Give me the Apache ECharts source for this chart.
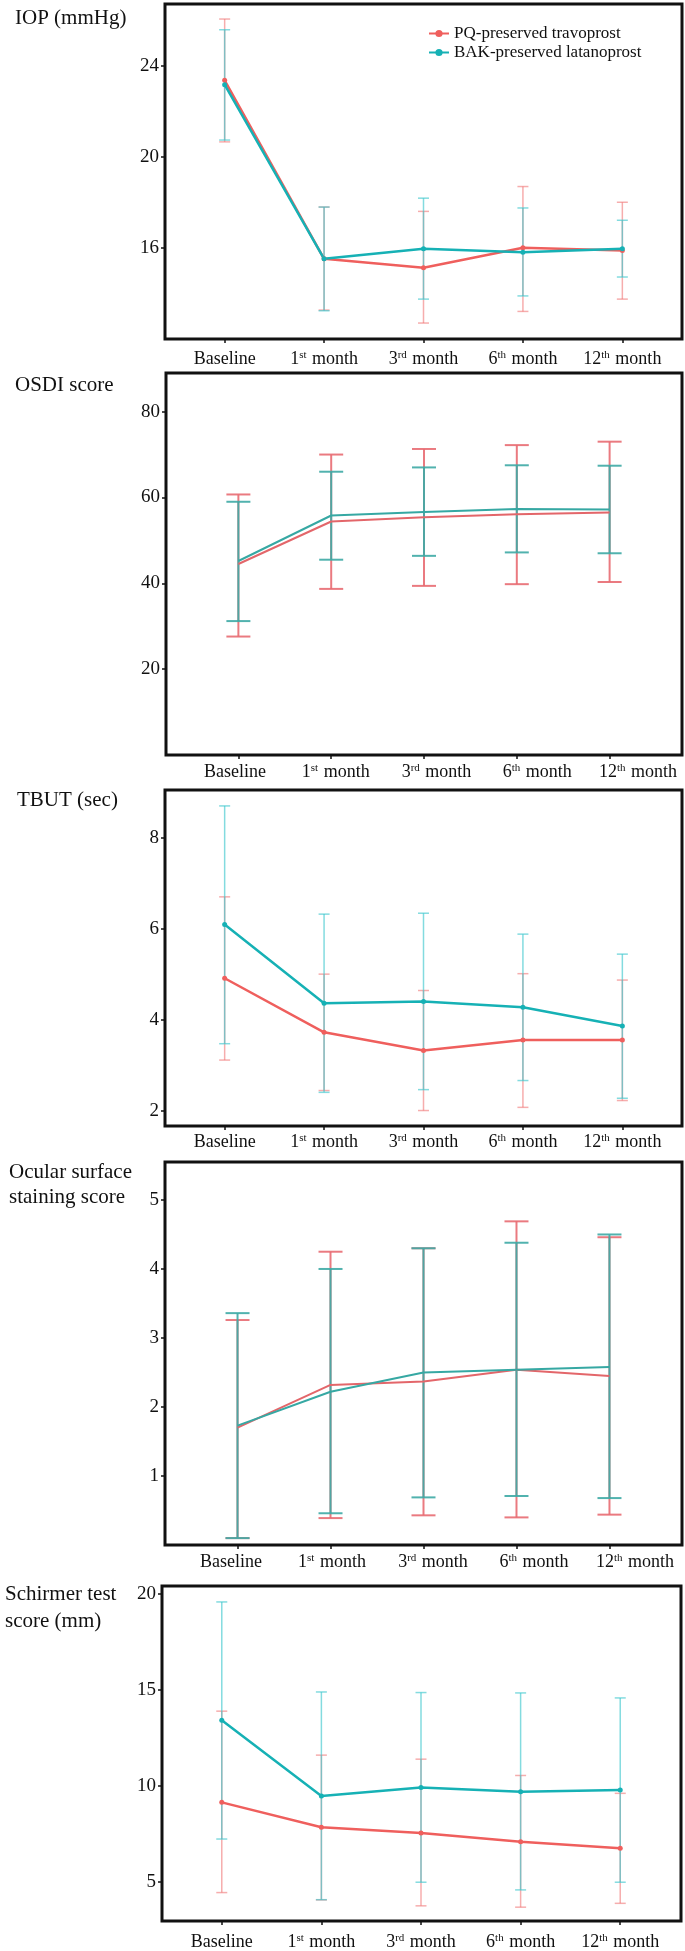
<!DOCTYPE html>
<html>
<head>
<meta charset="utf-8">
<script src="https://cdn.jsdelivr.net/npm/echarts@6/dist/echarts.min.js"></script>
<style>
  html, body { margin: 0; padding: 0; background: #fff; }
  #chart { width: 685px; height: 1951px; }
</style>
</head>
<body>
<div id="chart"></div>
<script>
// ---- data ----
const timepoints = ['Baseline', '1st month', '3rd month', '6th month', '12th month']
const seriesNames = ['PQ-preserved travoprost', 'BAK-preserved latanoprost']

// IOP (mmHg)
const iopTicks = [16, 20, 24]
const iopPqMean = [23.35, 15.52, 15.13, 16.0, 15.88]
const iopPqLow = [20.65, 13.27, 12.7, 13.21, 13.75]
const iopPqHigh = [26.04, 17.79, 17.6, 18.69, 18.0]
const iopBakMean = [23.16, 15.52, 15.96, 15.81, 15.96]
const iopBakLow = [20.73, 13.24, 13.75, 13.89, 14.72]
const iopBakHigh = [25.57, 17.79, 18.18, 17.75, 17.21]

// OSDI score
const osdiTicks = [20, 40, 60, 80]
const osdiPqMean = [44.5, 54.4, 55.4, 56.1, 56.5]
const osdiPqLow = [27.6, 38.7, 39.4, 39.8, 40.3]
const osdiPqHigh = [60.7, 70.0, 71.3, 72.2, 73.0]
const osdiBakMean = [45.2, 55.8, 56.6, 57.3, 57.2]
const osdiBakLow = [31.2, 45.5, 46.4, 47.2, 47.0]
const osdiBakHigh = [59.0, 66.0, 67.0, 67.5, 67.4]

// TBUT (sec)
const tbutTicks = [2, 4, 6, 8]
const tbutPqMean = [4.91, 3.72, 3.32, 3.55, 3.55]
const tbutPqLow = [3.11, 2.44, 2.0, 2.07, 2.22]
const tbutPqHigh = [6.7, 5.0, 4.64, 5.01, 4.87]
const tbutBakMean = [6.09, 4.36, 4.4, 4.27, 3.86]
const tbutBakLow = [3.47, 2.4, 2.46, 2.66, 2.27]
const tbutBakHigh = [8.7, 6.32, 6.34, 5.88, 5.44]

// Ocular surface staining score
const stainTicks = [1, 2, 3, 4, 5]
const stainPqMean = [1.7, 2.32, 2.37, 2.54, 2.45]
const stainPqLow = [0.1, 0.39, 0.43, 0.4, 0.44]
const stainPqHigh = [3.26, 4.25, 4.3, 4.69, 4.46]
const stainBakMean = [1.73, 2.22, 2.5, 2.54, 2.58]
const stainBakLow = [0.1, 0.46, 0.69, 0.71, 0.68]
const stainBakHigh = [3.36, 4.0, 4.3, 4.38, 4.5]

// Schirmer test score (mm)
const schirTicks = [5, 10, 15, 20]
const schirPqMean = [9.13, 7.83, 7.53, 7.08, 6.74]
const schirPqLow = [4.43, 4.05, 3.74, 3.67, 3.87]
const schirPqHigh = [13.88, 11.59, 11.38, 10.53, 9.6]
const schirBakMean = [13.41, 9.46, 9.91, 9.68, 9.77]
const schirBakLow = [7.22, 4.06, 4.97, 4.57, 4.97]
const schirBakHigh = [19.57, 14.88, 14.85, 14.83, 14.57]

// ---- styles ----
const FONT = "'Liberation Serif', 'Times New Roman', serif"
const lightStyle = {
  line: ['#EF5F5D', '#16B1B5'],
  bar: ['rgba(240,118,118,0.6)', 'rgba(64,200,206,0.65)'],
  cap: 11, barWidth: 1.5, lineWidth: 2.5, dot: 5,
}
const solidStyle = {
  line: ['#E3666A', '#36A8A3'],
  bar: ['rgba(232,108,114,0.9)', 'rgba(62,170,165,0.9)'],
  cap: 24, barWidth: 2, lineWidth: 2, dot: 0,
}

// layout of the five stacked panels
const panels = [
  {
    title: 'IOP (mmHg)', titleLeft: 15, titleTop: 6, lineHeight: 24,
    grid: { left: 165, top: 4, width: 517, height: 335 },
    x: [-0.6, 4.6], y: [12, 26.7], ticks: iopTicks, labelMargin: 11, style: lightStyle,
    pq: [iopPqMean, iopPqLow, iopPqHigh], bak: [iopBakMean, iopBakLow, iopBakHigh],
  },
  {
    title: 'OSDI score', titleLeft: 15, titleTop: 373, lineHeight: 24,
    grid: { left: 166, top: 373, width: 516, height: 382 },
    x: [-0.78, 4.78], y: [0, 89], ticks: osdiTicks, style: solidStyle,
    labelGrid: { left: 235, right: 47 }, labelMargin: 8,
    pq: [osdiPqMean, osdiPqLow, osdiPqHigh], bak: [osdiBakMean, osdiBakLow, osdiBakHigh],
  },
  {
    title: 'TBUT (sec)', titleLeft: 17, titleTop: 788, lineHeight: 24,
    grid: { left: 165, top: 790, width: 517, height: 336 },
    x: [-0.6, 4.6], y: [1.66, 9.05], ticks: tbutTicks, labelMargin: 7, style: lightStyle,
    pq: [tbutPqMean, tbutPqLow, tbutPqHigh], bak: [tbutBakMean, tbutBakLow, tbutBakHigh],
  },
  {
    title: 'Ocular surface\nstaining score', titleLeft: 9, titleTop: 1160, lineHeight: 25,
    grid: { left: 165, top: 1162, width: 517, height: 383 },
    x: [-0.78, 4.78], y: [0, 5.55], ticks: stainTicks, style: solidStyle,
    labelGrid: { left: 231, right: 50 }, labelMargin: 8,
    pq: [stainPqMean, stainPqLow, stainPqHigh], bak: [stainBakMean, stainBakLow, stainBakHigh],
  },
  {
    title: 'Schirmer test\nscore (mm)', titleLeft: 5, titleTop: 1581, lineHeight: 27,
    grid: { left: 162, top: 1586, width: 519, height: 335 },
    x: [-0.6, 4.61], y: [2.95, 20.4], ticks: schirTicks, labelMargin: 12, style: lightStyle,
    pq: [schirPqMean, schirPqLow, schirPqHigh], bak: [schirBakMean, schirBakLow, schirBakHigh],
  },
]

// "1st month" -> "1{sup|st} month"
function richLabel(s) {
  return s.replace(/^(\d+)(st|nd|rd|th)/, '$1{sup|$2}')
}
const labelRich = {
  sup: { fontSize: 11, fontFamily: FONT, color: '#111', verticalAlign: 'top', lineHeight: 12, padding: [0, 1, 0, 0] },
}

function errorBars(axisIdx, mean, low, high, color, style) {
  return {
    type: 'custom',
    xAxisIndex: axisIdx,
    yAxisIndex: axisIdx,
    silent: true,
    z: 2,
    data: mean.map((m, i) => [i, low[i], high[i]]),
    encode: { x: 0, y: [1, 2] },
    renderItem: (params, api) => {
      const x = api.value(0)
      const lo = api.coord([x, api.value(1)])
      const hi = api.coord([x, api.value(2)])
      const hw = style.cap / 2
      const ls = { stroke: color, lineWidth: style.barWidth }
      return {
        type: 'group',
        children: [
          { type: 'line', shape: { x1: hi[0], y1: hi[1], x2: lo[0], y2: lo[1] }, style: ls },
          { type: 'line', shape: { x1: hi[0] - hw, y1: hi[1], x2: hi[0] + hw, y2: hi[1] }, style: ls },
          { type: 'line', shape: { x1: lo[0] - hw, y1: lo[1], x2: lo[0] + hw, y2: lo[1] }, style: ls },
        ],
      }
    },
  }
}

function meanLine(axisIdx, name, mean, color, style) {
  return {
    type: 'line',
    name,
    xAxisIndex: axisIdx,
    yAxisIndex: axisIdx,
    data: mean.map((m, i) => [i, m]),
    symbol: 'circle',
    symbolSize: style.dot || 5,
    showSymbol: style.dot > 0,
    itemStyle: { color },
    lineStyle: { color, width: style.lineWidth },
    z: 3,
    silent: true,
  }
}

// ---- build option ----
const grid = []
const xAxis = []
const yAxis = []
const series = []
const title = []

panels.forEach((p) => {
  const idx = grid.length
  const st = p.style
  grid.push(Object.assign({ show: true, borderColor: '#111', borderWidth: 3, backgroundColor: 'transparent' }, p.grid))
  xAxis.push({
    type: 'value',
    gridIndex: idx,
    position: 'bottom',
    min: p.x[0],
    max: p.x[1],
    axisLine: { show: false, onZero: false },
    splitLine: { show: false },
    axisTick: { show: true, length: 4, customValues: [0, 1, 2, 3, 4], lineStyle: { color: '#111', width: 1.5 } },
    axisLabel: {
      show: !p.labelGrid,
      customValues: [0, 1, 2, 3, 4],
      margin: p.labelMargin,
      formatter: (v) => richLabel(timepoints[Math.round(v)]),
      fontFamily: FONT, fontSize: 18, color: '#111',
      rich: labelRich,
    },
  })
  yAxis.push({
    type: 'value',
    gridIndex: idx,
    position: 'left',
    min: p.y[0],
    max: p.y[1],
    axisLine: { show: false, onZero: false },
    splitLine: { show: false },
    axisTick: { show: true, length: 4, customValues: p.ticks, lineStyle: { color: '#111', width: 1.5 } },
    axisLabel: { customValues: p.ticks, margin: 6, fontFamily: FONT, fontSize: 19, color: '#111' },
  })
  title.push({
    text: p.title,
    left: p.titleLeft,
    top: p.titleTop,
    padding: 0,
    textStyle: { fontFamily: FONT, fontSize: 21, fontWeight: 'normal', color: '#111', lineHeight: p.lineHeight },
  })
  series.push(errorBars(idx, p.pq[0], p.pq[1], p.pq[2], st.bar[0], st))
  series.push(errorBars(idx, p.bak[0], p.bak[1], p.bak[2], st.bar[1], st))
  series.push(meanLine(idx, seriesNames[0], p.pq[0], st.line[0], st))
  series.push(meanLine(idx, seriesNames[1], p.bak[0], st.line[1], st))
})

// separate label axes where the tick labels are offset from the ticks
panels.forEach((p) => {
  if (!p.labelGrid) return
  const idx = grid.length
  grid.push({ left: p.labelGrid.left, right: p.labelGrid.right, top: p.grid.top, height: p.grid.height, show: false })
  xAxis.push({
    type: 'category',
    gridIndex: idx,
    position: 'bottom',
    data: timepoints,
    boundaryGap: false,
    axisLine: { show: false, onZero: false },
    axisTick: { show: false },
    splitLine: { show: false },
    axisLabel: {
      margin: p.labelMargin,
      interval: 0,
      formatter: (v) => richLabel(v),
      fontFamily: FONT, fontSize: 18, color: '#111',
      rich: labelRich,
    },
  })
  yAxis.push({ type: 'value', gridIndex: idx, show: false })
})

const chart = echarts.init(document.getElementById('chart'), null, { renderer: 'canvas' })
chart.setOption({
  animation: false,
  backgroundColor: '#fff',
  title,
  grid,
  xAxis,
  yAxis,
  series,
  legend: {
    data: seriesNames,
    orient: 'vertical',
    left: 423,
    top: 20,
    itemWidth: 20,
    itemHeight: 9,
    itemGap: 2,
    selectedMode: false,
    textStyle: { fontFamily: FONT, fontSize: 17, color: '#111' },
  },
})
</script>
</body>
</html>
